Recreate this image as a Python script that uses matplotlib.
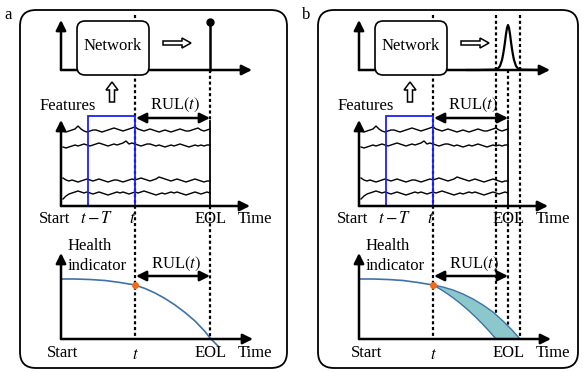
import numpy as np
import matplotlib.pyplot as plt
import matplotlib.patches as mpatches

plt.rcParams['font.family'] = 'Liberation Serif'
plt.rcParams['mathtext.fontset'] = 'stix'

# panel labels and horizontal offsets (pixels)
panels = ['a', 'b']
offsets = [0, 298]

# feature traces (pixel offsets from their base line)
feat_base = [130, 145, 180, 192]
feat1 = [1, 2, 1, 0, -1, -4, -1, 1, 2, 1, 0, 0, 1, 2, 1, 0, -1, -2, -1, 0, 1, 0, -1, -2, -3,
         -1, 0, 1, 0, -1, 0, 1, 2, 1, 0, 1, 2, 1, 0, -1, 0, 1, 1, 0, -1, -2, 0, 1, 0, -1]
feat2 = [2, 3, 2, 1, 0, 1, 0, -1, 0, 1, 0, -1, -2, -1, 0, 1, 0, -1, 0, -1, -2, -4, -1, -2, -1,
         0, 1, 0, -1, -1, 0, 1, 0, 1, 2, 1, 0, 1, 0, -1, 0, 1, 2, 1, 0, 1, 0, 1, 0, 0]
feat3 = [-2, 0, 1, 0, 1, 2, 1, 0, -1, 0, 1, 0, -1, 0, 1, 2, 1, 0, 0, 1, 2, 1, 0, -1, 0,
         -1, -2, -1, 0, 1, 0, -1, -3, -2, -1, 0, 1, 0, -1, 0, 1, 2, 1, 0, -1, 0, 1, 2, 1, 1]
feat4 = [7, 4, 2, 1, 0, -1, 0, 1, 0, 1, 2, 1, 0, 1, 2, 3, 2, 1, 0, 1, 0, 1, 2, 1, 0,
         1, 0, -1, 0, 1, 2, 3, 2, 1, 2, 1, 0, 1, 0, 1, 2, 3, 2, 1, 0, 1, 2, 1, 0, 1]
feats = [feat1, feat2, feat3, feat4]

# health indicator curve
hi_x = [61, 75, 90, 105, 120, 135, 145, 155, 165, 175, 185, 195, 205, 210, 218]
hi_y = [279, 279, 279.5, 280.5, 282.5, 285, 288.5, 293, 298.5, 305, 312.5, 321, 331.5, 338, 346]
# uncertainty band (panel b)
up_x = [135, 145, 155, 165, 175, 185, 195, 205, 215, 222]
up_y = [285, 287, 290, 294, 299, 305, 312, 321, 331, 339]
lo_x = [135, 142, 149, 156, 163, 170, 177, 184, 191, 198]
lo_y = [285, 289, 293.5, 298.5, 304, 310, 316.5, 323.5, 331, 339]
# predicted RUL distribution (panel b)
pk_dx = [-41, -30, -14, -10, -8, -6, -5, -4, -3, -2, -1, 0, 1, 2, 3, 4, 5, 6, 8, 10, 14, 30, 37]
pk_h = [0, 0, 0.3, 1.5, 4, 10, 15, 21, 28, 36, 42, 45, 42, 36, 28, 21, 15, 10, 4, 1.5, 0.3, 0, 0]

fig = plt.figure(figsize=(5.83, 3.72), dpi=100)
ax = fig.add_axes([0, 0, 1, 1])
ax.set_xlim(0, 583)
ax.set_ylim(372, 0)
ax.axis('off')

FS = 12


def arrow(x0, y0, x1, y1, style='-|>'):
    ax.annotate('', xy=(x1, y1), xytext=(x0, y0),
                arrowprops=dict(arrowstyle=style + ',head_length=0.5,head_width=0.25',
                                lw=1.8, color='k', mutation_scale=12,
                                shrinkA=0, shrinkB=0))


def dotted(x, y0, y1):
    ax.plot([x, x], [y0, y1], color='k', lw=1.6, ls=(0, (1.4, 1.2)), zorder=2)


for label, o in zip(panels, offsets):
    b = label == 'b'
    # outer box
    left = 20 if not b else 318
    right = 287 if not b else 578
    ax.add_patch(mpatches.FancyBboxPatch((left, 10), right - left, 358,
                                         boxstyle='round,pad=0,rounding_size=16',
                                         fc='white', ec='k', lw=1.3, zorder=0))
    ax.text(left - 12, 15, label, fontsize=FS, ha='center', va='center')

    tx = 135 + o
    eol = 210 + o

    # vertical guide lines
    dotted(tx, 15, 340)
    dotted(eol, 70, 121)
    dotted(eol, 206, 340)
    ax.plot([eol, eol], [121, 206], color='k', lw=1.3)
    if b:
        dotted(eol - 12, 15, 340)
        dotted(eol + 12, 15, 340)

    # top: network output
    arrow(61 + o, 70, 61 + o, 20)
    arrow(61 + o, 70, 252 + o, 70)
    ax.add_patch(mpatches.FancyBboxPatch((77 + o, 21), 72, 54,
                                         boxstyle='round,pad=0,rounding_size=8',
                                         fc='white', ec='k', lw=1.2, zorder=3))
    ax.text(113 + o, 46, 'Network', fontsize=FS, ha='center', va='center', zorder=4)
    ax.add_patch(mpatches.FancyArrow(163 + o, 43, 28, 0, width=4, head_width=10,
                                     head_length=9, length_includes_head=True,
                                     fc='white', ec='k', lw=1.1))
    ax.add_patch(mpatches.FancyArrow(112 + o, 102, 0, -20, width=5, head_width=12,
                                     head_length=8, length_includes_head=True,
                                     fc='white', ec='k', lw=1.1))
    if b:
        px = [eol + d for d in pk_dx]
        py = [70 - h for h in pk_h]
        ax.plot(px, py, color='k', lw=1.6, zorder=4)
    else:
        ax.plot([eol, eol], [70, 22], color='k', lw=1.8)
        ax.plot([eol], [22], 'o', color='k', ms=5)

    # middle: features
    ax.text(68 + o, 106, 'Features', fontsize=FS, ha='center', va='center')
    ax.text(175 + o, 105, r'RUL$(t)$', fontsize=FS, ha='center', va='center')
    arrow(tx + 1, 118, eol, 118, '<|-|>')
    fx = np.linspace(63, 210, len(feat1)) + o
    for base, f in zip(feat_base, feats):
        ax.plot(fx, [base + v for v in f], color='k', lw=1.0)
    ax.add_patch(mpatches.Rectangle((88 + o, 116), tx - 88 - o, 90, fill=False,
                                    ec='#1f1fff', lw=1.3, zorder=3))
    arrow(61 + o, 206, 61 + o, 120)
    arrow(61 + o, 206, 250 + o, 206)
    ax.text(55 + o, 219, 'Start', fontsize=FS, ha='center', va='center')
    ax.text(97 + o, 219, r'$t-T$', fontsize=FS, ha='center', va='center')
    ax.text(132 + o, 219, r'$t$', fontsize=FS, ha='center', va='center')
    ax.text(211 + o, 219, 'EOL', fontsize=FS, ha='center', va='center')
    ax.text(255 + o, 219, 'Time', fontsize=FS, ha='center', va='center')

    # bottom: health indicator
    ax.text(68 + o, 246, 'Health', fontsize=FS, ha='left', va='center')
    ax.text(68 + o, 266, 'indicator', fontsize=FS, ha='left', va='center')
    ax.text(176 + o, 264, r'RUL$(t)$', fontsize=FS, ha='center', va='center')
    arrow(tx + 1, 276, eol, 276, '<|-|>')
    if b:
        bx = [x + o for x in lo_x] + [x + o for x in up_x[::-1]]
        by = lo_y + up_y[::-1]
        ax.add_patch(mpatches.Polygon(list(zip(bx, by)), closed=True,
                                      fc='#8cc7cb', ec='#3f72a6', lw=1.0, zorder=2))
        ax.plot([x + o for x in hi_x if x <= 135], [y for x, y in zip(hi_x, hi_y) if x <= 135],
                color='#3f72a6', lw=1.2, zorder=3)
    else:
        ax.plot([x + o for x in hi_x], hi_y, color='#3f72a6', lw=1.2, zorder=3)
    ax.plot([tx], [285], 'o', color='#f26a1b', ms=4, zorder=5)
    arrow(61 + o, 339, 61 + o, 253)
    arrow(61 + o, 339, 253 + o, 339)
    ax.text(63 + o if not b else 69 + o, 353, 'Start', fontsize=FS, ha='center', va='center')
    ax.text(135 + o, 355, r'$t$', fontsize=FS, ha='center', va='center')
    ax.text(211 + o, 353, 'EOL', fontsize=FS, ha='center', va='center')
    ax.text(255 + o, 353, 'Time', fontsize=FS, ha='center', va='center')

fig.savefig('out.png', dpi=100)
